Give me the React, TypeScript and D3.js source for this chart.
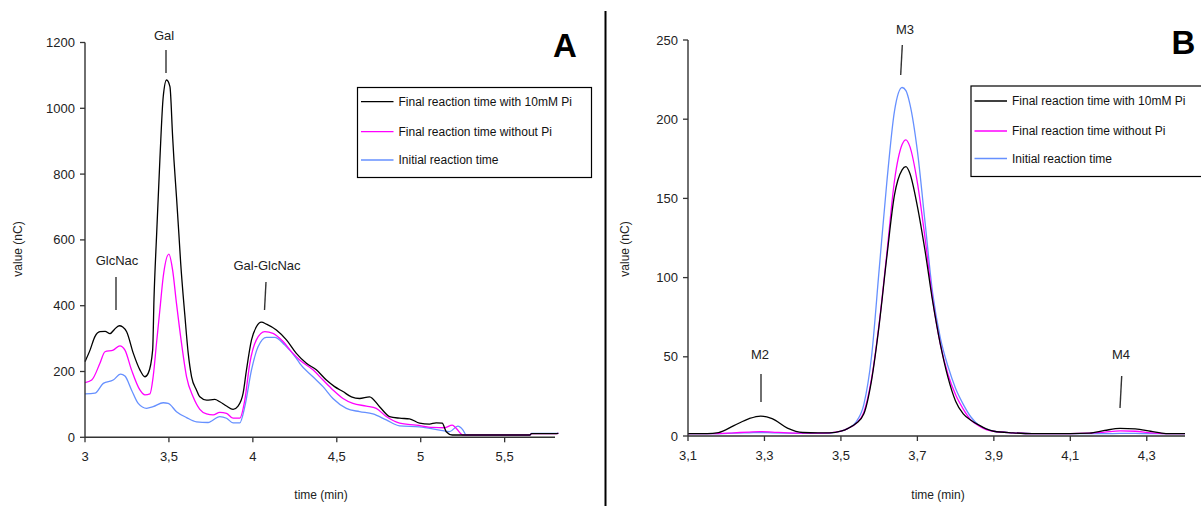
import React from "react";
import * as d3 from "d3";

// ---------- Panel A data ----------
const blackA_t = [3.0, 3.03, 3.059, 3.089, 3.12, 3.149, 3.175, 3.204, 3.225, 3.248, 3.288, 3.327, 3.357, 3.377, 3.403, 3.411, 3.427, 3.446, 3.466, 3.486, 3.506, 3.522, 3.53, 3.545, 3.559, 3.57, 3.595, 3.615, 3.635, 3.664, 3.684, 3.724, 3.773, 3.803, 3.843, 3.882, 3.912, 3.942, 3.962, 3.992, 4.021, 4.051, 4.081, 4.14, 4.2, 4.259, 4.319, 4.378, 4.438, 4.487, 4.537, 4.587, 4.636, 4.695, 4.755, 4.814, 4.874, 4.933, 4.993, 5.052, 5.092, 5.128, 5.152, 5.188, 5.4, 5.65, 5.66, 5.8, 5.82];
const blackA_v = [230, 265, 306, 321, 322, 315, 328, 339, 335, 321, 255, 205, 184, 195, 265, 420, 620, 843, 1035, 1086, 1066, 914, 843, 731, 620, 530, 370, 255, 184, 144, 123, 113, 115, 108, 95, 85, 95, 134, 205, 296, 336, 350, 344, 326, 296, 255, 225, 205, 174, 154, 139, 123, 118, 123, 93, 63, 58, 56, 43, 40, 44, 43, 17, 7, 7, 7, 11, 11, 12];

const magentaA_t = [3.0, 3.04, 3.089, 3.119, 3.168, 3.208, 3.238, 3.277, 3.327, 3.357, 3.387, 3.406, 3.426, 3.446, 3.466, 3.5, 3.522, 3.545, 3.575, 3.605, 3.644, 3.684, 3.724, 3.763, 3.803, 3.843, 3.882, 3.922, 3.952, 3.982, 4.021, 4.071, 4.12, 4.18, 4.239, 4.279, 4.358, 4.418, 4.477, 4.537, 4.596, 4.676, 4.735, 4.795, 4.874, 4.973, 5.072, 5.142, 5.188, 5.212, 5.252, 5.4, 5.65, 5.66, 5.8, 5.82];
const magentaA_v = [166, 174, 225, 260, 265, 278, 265, 205, 144, 129, 132, 184, 286, 387, 488, 557, 508, 407, 286, 184, 123, 85, 71, 68, 76, 73, 58, 58, 113, 225, 296, 321, 316, 291, 255, 235, 205, 174, 144, 118, 103, 95, 88, 63, 43, 37, 30, 29, 37, 27, 7, 7, 7, 11, 11, 12];

const blueA_t = [3.0, 3.059, 3.109, 3.168, 3.212, 3.238, 3.277, 3.317, 3.367, 3.406, 3.466, 3.496, 3.545, 3.605, 3.664, 3.733, 3.803, 3.843, 3.882, 3.922, 3.952, 3.992, 4.031, 4.081, 4.13, 4.189, 4.259, 4.279, 4.358, 4.418, 4.477, 4.557, 4.636, 4.715, 4.795, 4.874, 4.993, 5.112, 5.172, 5.221, 5.252, 5.271, 5.4, 5.65, 5.66, 5.8, 5.82];
const blueA_v = [132, 134, 164, 174, 192, 186, 144, 103, 88, 93, 105, 103, 78, 60, 47, 45, 63, 58, 44, 44, 93, 205, 275, 304, 304, 281, 240, 225, 184, 154, 118, 88, 78, 71, 53, 35, 32, 22, 17, 34, 22, 7, 7, 7, 12, 12, 12];

const xTicksA = [3, 3.5, 4, 4.5, 5, 5.5];
const yTicksA = [0, 200, 400, 600, 800, 1000, 1200];

// ---------- Panel B data ----------
const timesB = [3.1, 3.15, 3.18, 3.22, 3.26, 3.29, 3.32, 3.36, 3.4, 3.44, 3.47, 3.5, 3.52, 3.54, 3.56, 3.58, 3.6, 3.62, 3.64, 3.66, 3.67, 3.68, 3.7, 3.72, 3.74, 3.76, 3.78, 3.8, 3.82, 3.84, 3.86, 3.88, 3.9, 3.95, 4.0, 4.1, 4.15, 4.19, 4.23, 4.27, 4.31, 4.35, 4.4];
const blackB = [1.5, 1.5, 2.2, 6.5, 11, 12.6, 11, 5, 2.2, 2, 2, 3, 5, 8, 14, 35, 70, 113, 152, 168, 170, 166, 145, 117, 85, 58, 37, 22, 14, 10, 7, 4.5, 3, 2, 1.5, 1.5, 1.8, 3.5, 4.8, 4.5, 3, 1.5, 1.5];
const magentaB = [1.5, 1.5, 1.5, 2, 2.5, 2.8, 2.5, 2, 1.8, 1.8, 2, 3, 5, 8, 15, 36, 71, 115, 161, 184, 187, 183, 160, 125, 86, 58, 39, 26, 17, 10, 6.5, 4, 3, 2, 1.5, 1.5, 1.8, 2.5, 3.2, 3, 2, 1.5, 1.5];
const blueB = [1.5, 1.5, 1.5, 1.8, 2, 2.2, 2, 1.8, 1.6, 1.6, 1.8, 3, 5, 9, 20, 50, 105, 160, 205, 220, 218, 210, 180, 135, 90, 62, 44, 30, 20, 12, 7, 4.5, 3, 2, 1.5, 1.5, 1.5, 1.5, 1.6, 1.6, 1.5, 1.5, 1.5];

const xTicksB = [3.1, 3.3, 3.5, 3.7, 3.9, 4.1, 4.3];
const yTicksB = [0, 50, 100, 150, 200, 250];

const seriesNames = ["Final reaction time with 10mM Pi", "Final reaction time without Pi", "Initial reaction time"];
const seriesColors = ["#000000", "#ff00ff", "#6690ff"];

const FONT = "'Liberation Sans', Arial, sans-serif";
const comma = (v: number) => String(v).replace(".", ",");

function Panel(props: {
  xDomain: [number, number];
  xRange: [number, number];
  yDomain: [number, number];
  yRange: [number, number];
  xTicks: number[];
  yTicks: number[];
  series: { t: number[]; v: number[] }[];
  legend: { x: number; y: number; w: number; h: number; rows: number[] };
  letter: { text: string; x: number; y: number };
  xLabel: { x: number; y: number };
  yLabel: { x: number; y: number };
  anns: { label: string; tx: number; ty: number; x1: number; y1: number; x2: number; y2: number }[];
}) {
  const x = d3.scaleLinear().domain(props.xDomain).range(props.xRange);
  const y = d3.scaleLinear().domain(props.yDomain).range(props.yRange);
  const line = d3
    .line<[number, number]>()
    .x((d) => x(d[0]))
    .y((d) => y(d[1]))
    .curve(d3.curveMonotoneX);
  const axisColor = "#333";
  const order = [2, 1, 0];
  return (
    <g>
      {order.map((i) => {
        const s = props.series[i];
        const pts = s.t.map((t, k) => [t, s.v[k]] as [number, number]);
        return <path key={i} d={line(pts) || ""} fill="none" stroke={seriesColors[i]} strokeWidth={1.3} />;
      })}
      <line x1={props.xRange[0]} x2={props.xRange[0]} y1={props.yRange[0]} y2={props.yRange[1]} stroke={axisColor} strokeWidth={1.4} />
      {props.yTicks.map((v) => (
        <g key={"y" + v}>
          <line x1={props.xRange[0] - 5} x2={props.xRange[0]} y1={y(v)} y2={y(v)} stroke={axisColor} strokeWidth={1.3} />
          <text x={props.xRange[0] - 10} y={y(v)} dy="0.35em" textAnchor="end" fontSize={13} fontFamily={FONT} fill="#222">
            {comma(v)}
          </text>
        </g>
      ))}
      <line x1={props.xRange[0]} x2={props.xRange[1]} y1={props.yRange[0]} y2={props.yRange[0]} stroke={axisColor} strokeWidth={1.4} />
      {props.xTicks.map((t) => (
        <g key={"x" + t}>
          <line x1={x(t)} x2={x(t)} y1={props.yRange[0]} y2={props.yRange[0] + 5} stroke={axisColor} strokeWidth={1.3} />
          <text x={x(t)} y={props.yRange[0] + 24} textAnchor="middle" fontSize={13} fontFamily={FONT} fill="#222">
            {comma(t)}
          </text>
        </g>
      ))}
      <text x={props.xLabel.x} y={props.xLabel.y} textAnchor="middle" fontSize={12} fontFamily={FONT} fill="#222">
        time (min)
      </text>
      <text
        transform={`translate(${props.yLabel.x},${props.yLabel.y}) rotate(-90)`}
        textAnchor="middle"
        fontSize={12}
        fontFamily={FONT}
        fill="#222"
      >
        value (nC)
      </text>
      {props.anns.map((a) => (
        <g key={a.label}>
          <text x={a.tx} y={a.ty} textAnchor="middle" fontSize={13} fontFamily={FONT} fill="#222">
            {a.label}
          </text>
          <line x1={a.x1} y1={a.y1} x2={a.x2} y2={a.y2} stroke="#333" strokeWidth={1.4} />
        </g>
      ))}
      <text x={props.letter.x} y={props.letter.y} textAnchor="middle" fontSize={33} fontWeight="bold" fontFamily={FONT} fill="#000">
        {props.letter.text}
      </text>
      <rect x={props.legend.x} y={props.legend.y} width={props.legend.w} height={props.legend.h} fill="#fff" stroke="#000" strokeWidth={1.2} />
      {seriesNames.map((n, i) => (
        <g key={n}>
          <line
            x1={props.legend.x + 3.5}
            x2={props.legend.x + 36}
            y1={props.legend.rows[i]}
            y2={props.legend.rows[i]}
            stroke={seriesColors[i]}
            strokeWidth={1.3}
          />
          <text x={props.legend.x + 41} y={props.legend.rows[i]} dy="0.35em" fontSize={12} fontFamily={FONT} fill="#111">
            {n}
          </text>
        </g>
      ))}
    </g>
  );
}

export default function App() {
  return (
    <svg width={1201} height={506} style={{ position: "absolute", left: 0, top: 0, background: "#fff" }}>
      <rect x={0} y={0} width={1201} height={506} fill="#fff" />
      <Panel
        xDomain={[3, 5.8]}
        xRange={[85, 555]}
        yDomain={[0, 1200]}
        yRange={[437.3, 42.5]}
        xTicks={xTicksA}
        yTicks={yTicksA}
        series={[
          { t: blackA_t, v: blackA_v },
          { t: magentaA_t, v: magentaA_v },
          { t: blueA_t, v: blueA_v },
        ]}
        legend={{ x: 357.5, y: 87.5, w: 234, h: 90, rows: [101.7, 131.7, 160] }}
        letter={{ text: "A", x: 565, y: 57 }}
        xLabel={{ x: 321, y: 499 }}
        yLabel={{ x: 22, y: 249 }}
        anns={[
          { label: "Gal", tx: 164, ty: 40, x1: 166, y1: 50, x2: 166, y2: 73 },
          { label: "GlcNac", tx: 117, ty: 265, x1: 116, y1: 277, x2: 116, y2: 310 },
          { label: "Gal-GlcNac", tx: 267, ty: 270, x1: 266, y1: 282, x2: 264.5, y2: 310 },
        ]}
      />
      <line x1={605.5} x2={605.5} y1={11} y2={506} stroke="#000" strokeWidth={2} />
      <Panel
        xDomain={[3.1, 4.4]}
        xRange={[688, 1185]}
        yDomain={[0, 250]}
        yRange={[436, 40]}
        xTicks={xTicksB}
        yTicks={yTicksB}
        series={[
          { t: timesB, v: blackB },
          { t: timesB, v: magentaB },
          { t: timesB, v: blueB },
        ]}
        legend={{ x: 971, y: 86, w: 240, h: 90.5, rows: [101, 131, 158.5] }}
        letter={{ text: "B", x: 1183.5, y: 53.5 }}
        xLabel={{ x: 938, y: 499 }}
        yLabel={{ x: 629, y: 249 }}
        anns={[
          { label: "M3", tx: 905, ty: 34, x1: 902.3, y1: 45, x2: 900.7, y2: 75 },
          { label: "M2", tx: 760, ty: 359, x1: 761, y1: 374, x2: 761, y2: 402 },
          { label: "M4", tx: 1121, ty: 359, x1: 1121.7, y1: 376, x2: 1120, y2: 408 },
        ]}
      />
    </svg>
  );
}
